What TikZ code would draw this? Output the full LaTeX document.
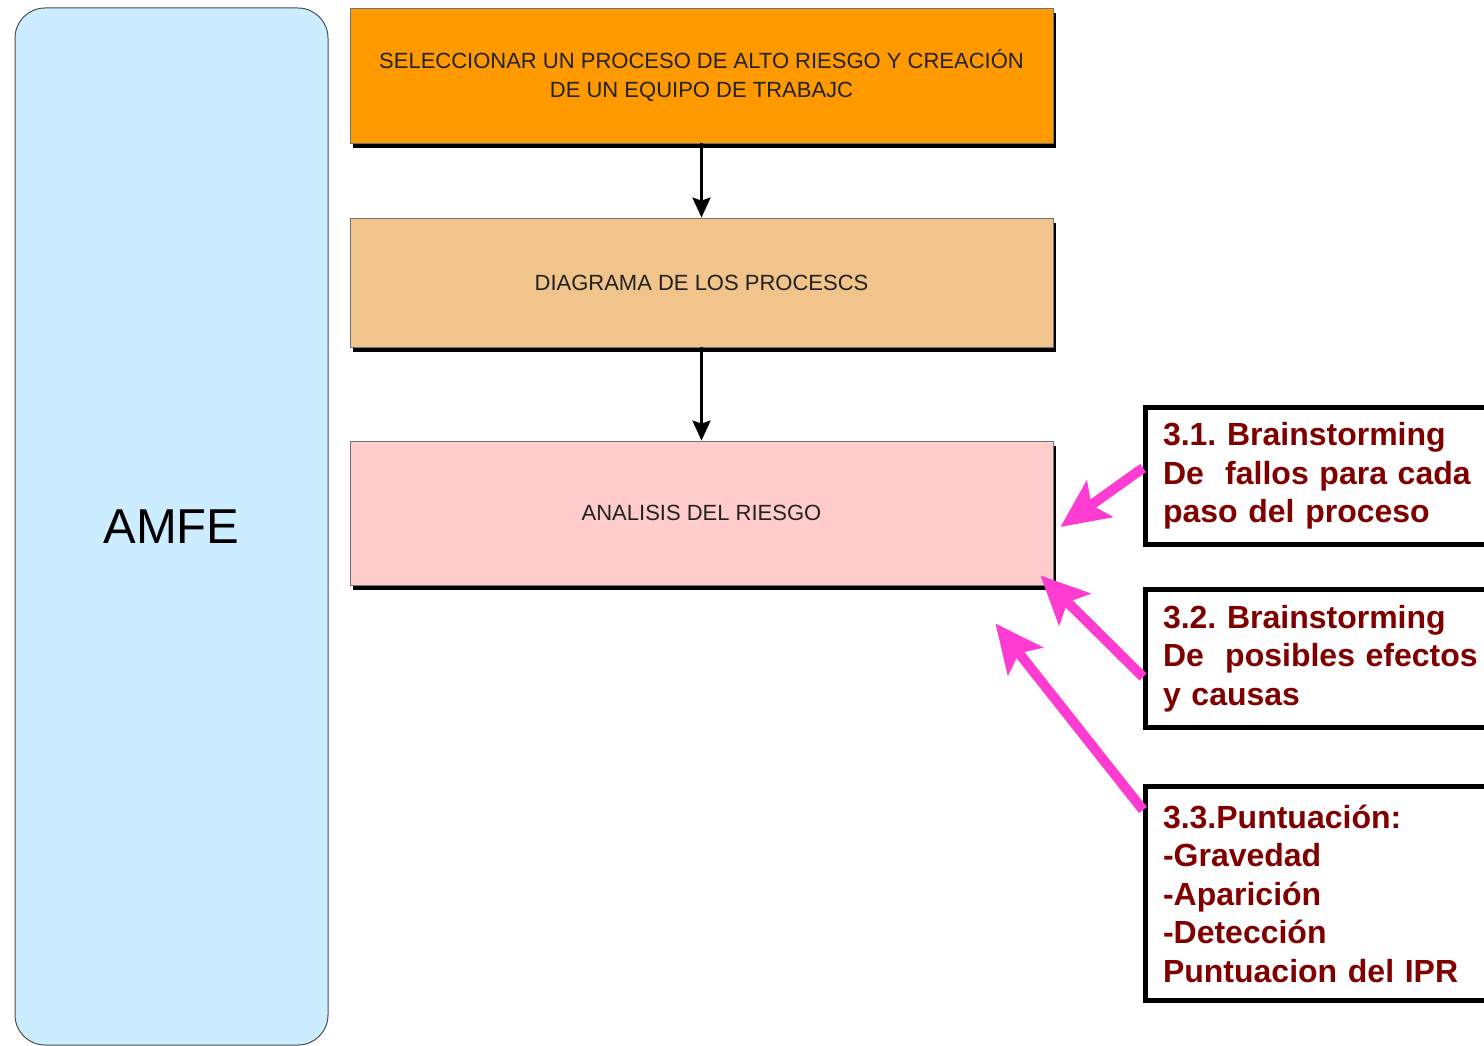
\documentclass[tikz,border=0pt]{standalone}
\usepackage{fontspec}
\setmainfont{Liberation Sans}
\usetikzlibrary{shapes.geometric, arrows, arrows.meta, shadows}
\frenchspacing

\definecolor{celeste}{HTML}{CCECFF}
\definecolor{naranja}{HTML}{FF9900}
\definecolor{arena}{HTML}{F0C48A}
\definecolor{rosa}{HTML}{FFCCCC}
\definecolor{fucsia}{HTML}{FF3CD2}
\definecolor{granate}{HTML}{800000}
\definecolor{grisoscuro}{HTML}{222222}

\tikzstyle{lateral} = [
	rectangle,
	rounded corners=30pt,
	minimum width=313pt,
	minimum height=1037pt,
	draw=black!70,
	line width=1pt,
	fill=celeste,
	font=\fontsize{49pt}{58pt}\selectfont
]
\tikzstyle{paso} = [
	rectangle,
	minimum width=703pt,
	minimum height=135pt,
	text centered,
	align=center,
	draw=black!55,
	line width=0.8pt,
	text=grisoscuro,
	font=\fontsize{22pt}{29pt}\selectfont,
	drop shadow={shadow xshift=3pt, shadow yshift=-5pt, fill=black, opacity=1}
]
\tikzstyle{nota} = [
	rectangle,
	anchor=west,
	text width=330pt,
	inner xsep=17.5pt,
	align=left,
	draw=black,
	line width=5pt,
	fill=white,
	text=granate,
	font=\fontsize{32pt}{38.5pt}\selectfont\bfseries
]
\tikzstyle{arrow} = [line width=3pt, -{Stealth[length=20pt, width=18pt, inset=3pt]}]
\tikzstyle{flecha} = [line width=10pt, fucsia, -{Stealth[length=48pt, width=44pt, inset=10pt]}]

\begin{document}
\begin{tikzpicture}[node distance=207pt]
        \path [use as bounding box, clip] (0pt,0pt) rectangle (1484pt,-1046pt);
        \node (amfe) [lateral] at (171.5pt,-526.5pt) {AMFE};
        \node (seleccion) [paso, fill=naranja] at (701.5pt,-75.5pt)
          {SELECCIONAR UN PROCESO DE ALTO RIESGO Y CREACIÓN\\DE UN EQUIPO DE TRABAJC};
        \node (diagrama) [paso, fill=arena, below of=seleccion, minimum height=129pt]
          {DIAGRAMA DE LOS PROCESCS};
        \node (riesgo) [paso, fill=rosa, below of=diagrama, yshift=-23.5pt, minimum height=144pt]
          {ANALISIS DEL RIESGO};
        % notas de la derecha
        \node (lluvia1) [nota, minimum height=137pt] at (1143pt,-476pt)
          {3.1. Brainstorming\\De\ \ fallos para cada\\paso del proceso};
        \node (lluvia2) [nota, minimum height=138pt] at (1143pt,-658.5pt)
          {3.2. Brainstorming\\De\ \ posibles efectos\\y causas};
        \node (puntuacion) [nota, minimum height=214pt] at (1143pt,-893.5pt)
          {3.3.Puntuación:\\-Gravedad\\-Aparición\\-Detección\\Puntuacion del IPR};
        \draw [arrow] (seleccion) -- (diagrama);
        \draw [arrow] (diagrama) -- (riesgo);
        \draw [flecha] ([yshift=8pt]lluvia1.west) -- ([xshift=7pt, yshift=-14pt]riesgo.east);
        \draw [flecha] ([yshift=-18.5pt]lluvia2.west) -- ([xshift=-13pt, yshift=10pt]riesgo.south east);
        \draw [flecha] ([yshift=-26pt]puntuacion.north west) -- ([xshift=-58pt, yshift=-38pt]riesgo.south east);
      \end{tikzpicture}
\end{document}
